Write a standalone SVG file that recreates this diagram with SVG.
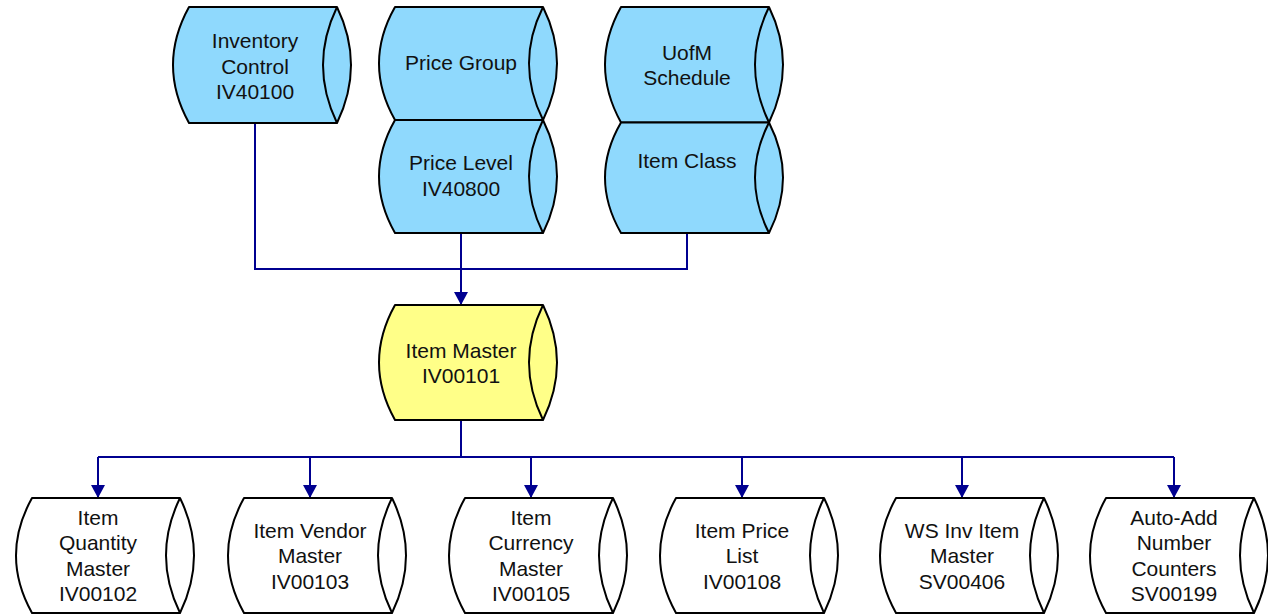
<svg xmlns="http://www.w3.org/2000/svg" width="1268" height="614" viewBox="0 0 1268 614">
<style>
.shape{stroke:#000;stroke-width:2;stroke-linejoin:round}
.blue{fill:#8FD9FD}
.yellow{fill:#FFFF88}
.white{fill:#fff}
.lens{fill:none;stroke:#000;stroke-width:2}
.conn{fill:none;stroke:#000090;stroke-width:2}
text{font-family:"Liberation Sans",Arial,sans-serif;font-size:21px;fill:#111;text-anchor:middle}
</style>
<defs>
<marker id="arr" markerUnits="userSpaceOnUse" markerWidth="14" markerHeight="14" refX="13" refY="7" orient="auto">
<path d="M0,0 L13,7 L0,14 z" fill="#000090"/>
</marker>
</defs>
<rect width="1268" height="614" fill="#fff"/>
<g id="connectors">
<path class="conn" d="M255,123 V269 H687 V233"/>
<path class="conn" d="M461,233 V305" marker-end="url(#arr)"/>
<path class="conn" d="M461,420 V457"/>
<path class="conn" d="M98,457 H1174"/>
<path class="conn" d="M98,457 V498" marker-end="url(#arr)"/>
<path class="conn" d="M310,457 V498" marker-end="url(#arr)"/>
<path class="conn" d="M531,457 V498" marker-end="url(#arr)"/>
<path class="conn" d="M742,457 V498" marker-end="url(#arr)"/>
<path class="conn" d="M962,457 V498" marker-end="url(#arr)"/>
<path class="conn" d="M1174,457 V498" marker-end="url(#arr)"/>
</g>
<g id="inventory-control">
<path class="shape blue" d="M189,7 H337 Q365,65 337,123 H189 Q157,65 189,7 Z"/>
<path class="lens" d="M337,7 Q309,65 337,123"/>
<text x="255" y="48">Inventory</text>
<text x="255" y="73.5">Control</text>
<text x="255" y="99">IV40100</text>
</g>
<g id="price-group">
<path class="shape blue" d="M395,7 H543 Q571,63.5 543,120 H395 Q363,63.5 395,7 Z"/>
<path class="lens" d="M543,7 Q515,63.5 543,120"/>
<text x="461" y="69.5">Price Group</text>
</g>
<g id="price-level">
<path class="shape blue" d="M395,120 H543 Q571,176.5 543,233 H395 Q363,176.5 395,120 Z"/>
<path class="lens" d="M543,120 Q515,176.5 543,233"/>
<text x="461" y="169.5">Price Level</text>
<text x="461" y="195.5">IV40800</text>
</g>
<g id="uofm-schedule">
<path class="shape blue" d="M621,7 H769 Q797,64.5 769,122.5 H621 Q589,64.5 621,7 Z"/>
<path class="lens" d="M769,7 Q741,64.5 769,122.5"/>
<text x="687" y="59.5">UofM</text>
<text x="687" y="84.5">Schedule</text>
</g>
<g id="item-class">
<path class="shape blue" d="M621,122.5 H769 Q797,177.5 769,233 H621 Q589,177.5 621,122.5 Z"/>
<path class="lens" d="M769,122.5 Q741,177.5 769,233"/>
<text x="687" y="168">Item Class</text>
</g>
<g id="item-master">
<path class="shape yellow" d="M395,305 H543 Q571,362.5 543,420 H395 Q363,362.5 395,305 Z"/>
<path class="lens" d="M543,305 Q515,362.5 543,420"/>
<text x="461" y="357.5">Item Master</text>
<text x="461" y="383">IV00101</text>
</g>
<g id="item-quantity-master">
<path class="shape white" d="M32,498 H180 Q208,555.5 180,613 H32 Q0,555.5 32,498 Z"/>
<path class="lens" d="M180,498 Q152,555.5 180,613"/>
<text x="98" y="524.5">Item</text>
<text x="98" y="550">Quantity</text>
<text x="98" y="575.5">Master</text>
<text x="98" y="601">IV00102</text>
</g>
<g id="item-vendor-master">
<path class="shape white" d="M244,498 H392 Q420,555.5 392,613 H244 Q212,555.5 244,498 Z"/>
<path class="lens" d="M392,498 Q364,555.5 392,613"/>
<text x="310" y="537.5">Item Vendor</text>
<text x="310" y="563">Master</text>
<text x="310" y="588.5">IV00103</text>
</g>
<g id="item-currency-master">
<path class="shape white" d="M465,498 H613 Q641,555.5 613,613 H465 Q433,555.5 465,498 Z"/>
<path class="lens" d="M613,498 Q585,555.5 613,613"/>
<text x="531" y="524.5">Item</text>
<text x="531" y="550">Currency</text>
<text x="531" y="575.5">Master</text>
<text x="531" y="601">IV00105</text>
</g>
<g id="item-price-list">
<path class="shape white" d="M676,498 H824 Q852,555.5 824,613 H676 Q644,555.5 676,498 Z"/>
<path class="lens" d="M824,498 Q796,555.5 824,613"/>
<text x="742" y="537.5">Item Price</text>
<text x="742" y="563">List</text>
<text x="742" y="588.5">IV00108</text>
</g>
<g id="ws-inv-item-master">
<path class="shape white" d="M896,498 H1044 Q1072,555.5 1044,613 H896 Q864,555.5 896,498 Z"/>
<path class="lens" d="M1044,498 Q1016,555.5 1044,613"/>
<text x="962" y="537.5">WS Inv Item</text>
<text x="962" y="563">Master</text>
<text x="962" y="588.5">SV00406</text>
</g>
<g id="auto-add-number-counters">
<path class="shape white" d="M1106,498 H1254 Q1282,555.5 1254,613 H1106 Q1074,555.5 1106,498 Z"/>
<path class="lens" d="M1254,498 Q1226,555.5 1254,613"/>
<text x="1174" y="524.5">Auto-Add</text>
<text x="1174" y="550">Number</text>
<text x="1174" y="575.5">Counters</text>
<text x="1174" y="601">SV00199</text>
</g>
</svg>
